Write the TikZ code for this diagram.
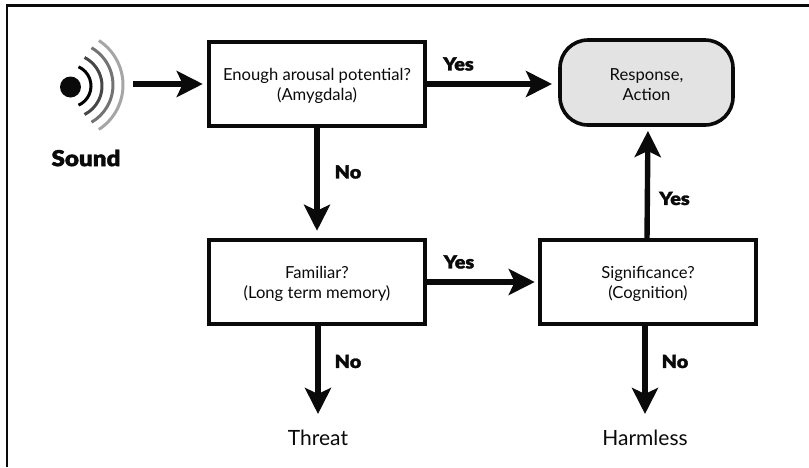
\documentclass[tikz,border=0pt]{standalone}
\usepackage{fontspec}
\setmainfont{Lato}
\newfontfamily\heavy[FakeBold=1.6,FakeStretch=1.1]{Lato Black}
\newcommand{\topfix}{\rule{0pt}{17pt}}
\usetikzlibrary{arrows.meta,positioning,calc}
\definecolor{ink}{HTML}{0A0A0A}
\tikzset{
  box/.style={draw=ink,line width=3.6pt,outer sep=0pt,inner sep=0pt,minimum width=216.5pt,minimum height=84.5pt,align=center,font=\fontsize{16.6}{20}\selectfont,text=ink},
  roundbox/.style={box,rounded corners=28pt,fill=black!11,minimum width=173pt,minimum height=85pt},
  arr/.style={draw=ink,line width=5.4pt,-{Stealth[length=26pt,width=26pt,inset=6pt]}},
  yn/.style={font=\fontsize{18}{20}\heavy,text=ink,inner sep=0pt,outer sep=0pt},
  result/.style={font=\fontsize{21}{24}\selectfont,text=ink,inner sep=0pt},
  wave/.style={line width=3pt}
}
\begin{document}
\begin{tikzpicture}[x=1pt,y=-1pt]
\useasboundingbox (0,0) rectangle (809,467);
\draw[ink,line width=2.6pt] (7,467) -- (7,5.5) -- (809,5.5);
% sound icon
\fill[ink] (70.5,87) circle (10.5);
\draw[wave,black] ($(70,86)+(-66:21)$) arc (-66:66:21);
\draw[wave,black!72] ($(70,86)+(-63:32)$) arc (-63:63:32);
\draw[wave,black!55] ($(70,85)+(-60:43)$) arc (-60:60:43);
\draw[wave,black!35] ($(70,85)+(-57:53)$) arc (-57:57:53);
\node[yn,font=\fontsize{22}{24}\heavy] (sound) at (86,158) {Sound};
\coordinate (srcout) at (133,84);
% boxes
\node[box] (arousal) at (317,84) {\topfix Enough arousal potential?\\(Amygdala)};
\node[box] (familiar) at (317,282) {\topfix Familiar?\\(Long term memory)};
\node[box] (signif) at (648,282) {\topfix Significance?\\(Cognition)};
\node[roundbox] (resp) at (646.5,82.5) {\topfix Response,\\Action};
\node[result] (threat) at (318,438) {Threat};
\node[result] (harmless) at (645,438) {Harmless};
% connectors
\draw[arr,shorten >=6pt] (srcout) -- (arousal.west);
\draw[arr,shorten >=8pt] (arousal.east) -- (arousal.east -| resp.west);
\draw[arr,shorten >=9pt] (arousal.south) -- (familiar.north);
\draw[arr,shorten >=5pt] (familiar.east) -- (signif.west);
\draw[arr,shorten >=16pt] ([xshift=1pt]familiar.south) -- (threat.north);
\draw[arr,shorten >=6pt] ([xshift=-1pt]signif.north) -- (signif.north |- resp.south);
\draw[arr,shorten >=16pt] ([xshift=-3pt]signif.south) -- (harmless.north);
% labels
\node[yn] (y1) at (458.5,64) {Yes};
\node[yn] (n1) at (348,172) {No};
\node[yn] (y2) at (459,262) {Yes};
\node[yn] (y3) at (674.5,198.5) {Yes};
\node[yn] (n2) at (348,361.5) {No};
\node[yn] (n3) at (675,361.5) {No};
\end{tikzpicture}
\end{document}
